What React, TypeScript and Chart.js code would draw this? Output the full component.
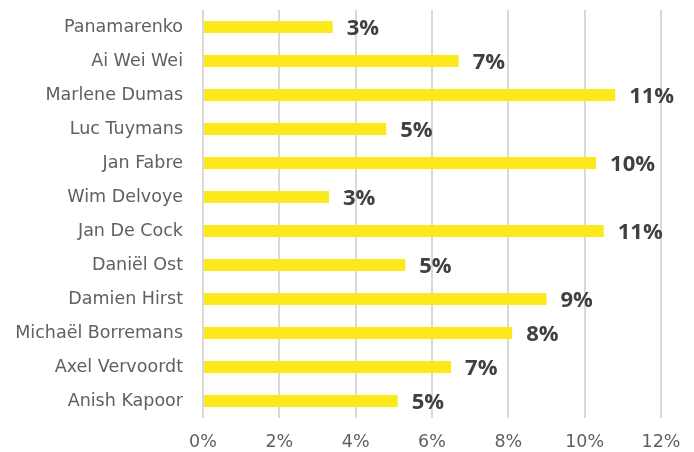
import React, { useEffect, useRef } from "react";
import { Chart, registerables } from "chart.js";

Chart.register(...registerables);

const categories = [
  "Panamarenko",
  "Ai Wei Wei",
  "Marlene Dumas",
  "Luc Tuymans",
  "Jan Fabre",
  "Wim Delvoye",
  "Jan De Cock",
  "Daniël Ost",
  "Damien Hirst",
  "Michaël Borremans",
  "Axel Vervoordt",
  "Anish Kapoor",
];
const values = [3.4, 6.7, 10.8, 4.8, 10.3, 3.3, 10.5, 5.3, 9.0, 8.1, 6.5, 5.1];
const xTicks = [0, 2, 4, 6, 8, 10, 12];

const labelPlugin = {
  id: "valueLabels",
  afterDatasetsDraw(chart: any) {
    const ctx = chart.ctx;
    const meta = chart.getDatasetMeta(0);
    ctx.save();
    ctx.font = "bold 22px 'Open Sans'";
    ctx.fillStyle = "#404040";
    ctx.textAlign = "left";
    ctx.textBaseline = "middle";
    meta.data.forEach((bar: any, i: number) => {
      const v = values[i];
      ctx.fillText(Math.round(v) + "%", bar.x + 14, bar.y + 2);
    });
    ctx.restore();
  },
};

export default function App() {
  const ref = useRef<HTMLCanvasElement | null>(null);
  useEffect(() => {
    document.body.style.margin = "0";
    const c = ref.current;
    if (!c) return;
    const chart = new Chart(c, {
      type: "bar",
      data: {
        labels: categories,
        datasets: [
          {
            data: values,
            backgroundColor: "#FCE91C",
            borderWidth: 0,
            barPercentage: 0.36,
            categoryPercentage: 1,
          },
        ],
      },
      options: {
        indexAxis: "y",
        animation: false,
        responsive: false,
        maintainAspectRatio: false,
        layout: { padding: { left: 0, right: 33, top: 10, bottom: 0 } },
        plugins: { legend: { display: false }, tooltip: { enabled: false } },
        scales: {
          x: {
            min: 0,
            max: 12,
            afterBuildTicks: (axis: any) => {
              axis.ticks = xTicks.map((v) => ({ value: v }));
            },
            afterFit: (axis: any) => {
              axis.height = 34;
              axis.paddingLeft = 0;
              axis.paddingRight = 0;
            },
            grid: { color: "#d9d9d9", lineWidth: 2, drawTicks: false },
            border: { display: false },
            ticks: {
              color: "#606060",
              font: { family: "'DejaVu Sans'", size: 17.5 },
              padding: 14,
              callback: (v: any) => v + "%",
            },
          },
          y: {
            afterFit: (axis: any) => {
              axis.width = 203;
              axis.paddingTop = 0;
              axis.paddingBottom = 0;
            },
            grid: { display: false, drawTicks: false },
            border: { display: false },
            ticks: {
              color: "#606060",
              font: { family: "'DejaVu Sans'", size: 17.5 },
              padding: 20,
            },
          },
        },
      },
      plugins: [labelPlugin],
    });
    return () => chart.destroy();
  }, []);
  return <canvas ref={ref} width={694} height={452} style={{ display: "block" }} />;
}
